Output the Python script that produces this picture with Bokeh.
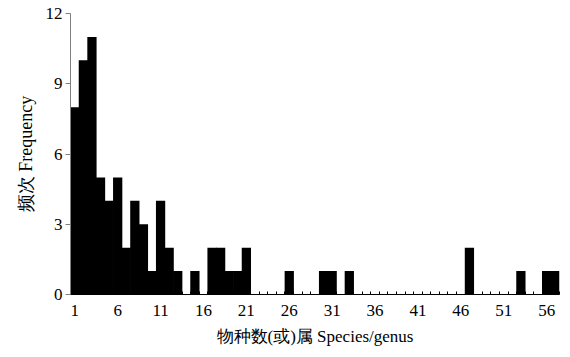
from bokeh.plotting import figure
from bokeh.models import Range1d, FixedTicker, ColumnDataSource
from bokeh.embed import file_html
from bokeh.resources import INLINE

species = list(range(1, 58))
frequency = [8, 10, 11, 5, 4, 5, 2, 4, 3, 1, 4, 2, 1, 0, 1, 0, 2, 2, 1, 1, 2,
             0, 0, 0, 0, 1, 0, 0, 0, 1, 1, 0, 1, 0, 0, 0, 0, 0, 0, 0, 0, 0,
             0, 0, 0, 0, 2, 0, 0, 0, 0, 0, 1, 0, 0, 1, 1]
x_tick_labels = [1, 6, 11, 16, 21, 26, 31, 36, 41, 46, 51, 56]
y_ticks = [0, 3, 6, 9, 12]

FONT = "Liberation Serif"

p = figure(width=562, height=349, output_backend="svg", toolbar_location=None,
           x_range=Range1d(0.5, 57.5), y_range=Range1d(0, 12),
           min_border_left=70, min_border_right=3, min_border_top=13, min_border_bottom=55)
p.outline_line_color = None
p.xgrid.grid_line_color = None
p.ygrid.grid_line_color = None
p.background_fill_color = "white"
p.border_fill_color = "white"

src = ColumnDataSource(dict(x=species, top=frequency))
p.vbar(x="x", top="top", width=1.08, source=src, fill_color="black",
       line_color=None)

xa = p.xaxis[0]
xa.ticker = FixedTicker(ticks=x_tick_labels, minor_ticks=[s + 0.5 for s in [0] + species])
xa.major_tick_in = 0
xa.major_tick_out = 0
xa.minor_tick_in = 3
xa.minor_tick_out = 0
xa.minor_tick_line_color = "black"
xa.axis_line_color = "black"
xa.major_label_text_font = FONT
xa.major_label_text_font_size = "17px"
xa.major_label_text_color = "black"
xa.major_label_standoff = 10
xa.axis_label = "物种数(或)属 Species/genus"
xa.axis_label_text_font = FONT
xa.axis_label_text_font_size = "17px"
xa.axis_label_text_font_style = "normal"
xa.axis_label_text_color = "black"
xa.axis_label_standoff = 8

ya = p.yaxis[0]
ya.ticker = FixedTicker(ticks=y_ticks)
ya.minor_tick_line_color = None
ya.major_tick_in = 0
ya.major_tick_out = 5
ya.major_tick_line_color = "#808080"
ya.axis_line_color = "#808080"
ya.major_label_text_font = FONT
ya.major_label_text_font_size = "17px"
ya.major_label_text_color = "black"
ya.major_label_standoff = 3
ya.axis_label = "频次 Frequency"
ya.axis_label_text_font = FONT
ya.axis_label_text_font_size = "18px"
ya.axis_label_text_font_style = "normal"
ya.axis_label_text_color = "black"
ya.axis_label_standoff = 7

open("out.html", "w").write(file_html(p, INLINE))
